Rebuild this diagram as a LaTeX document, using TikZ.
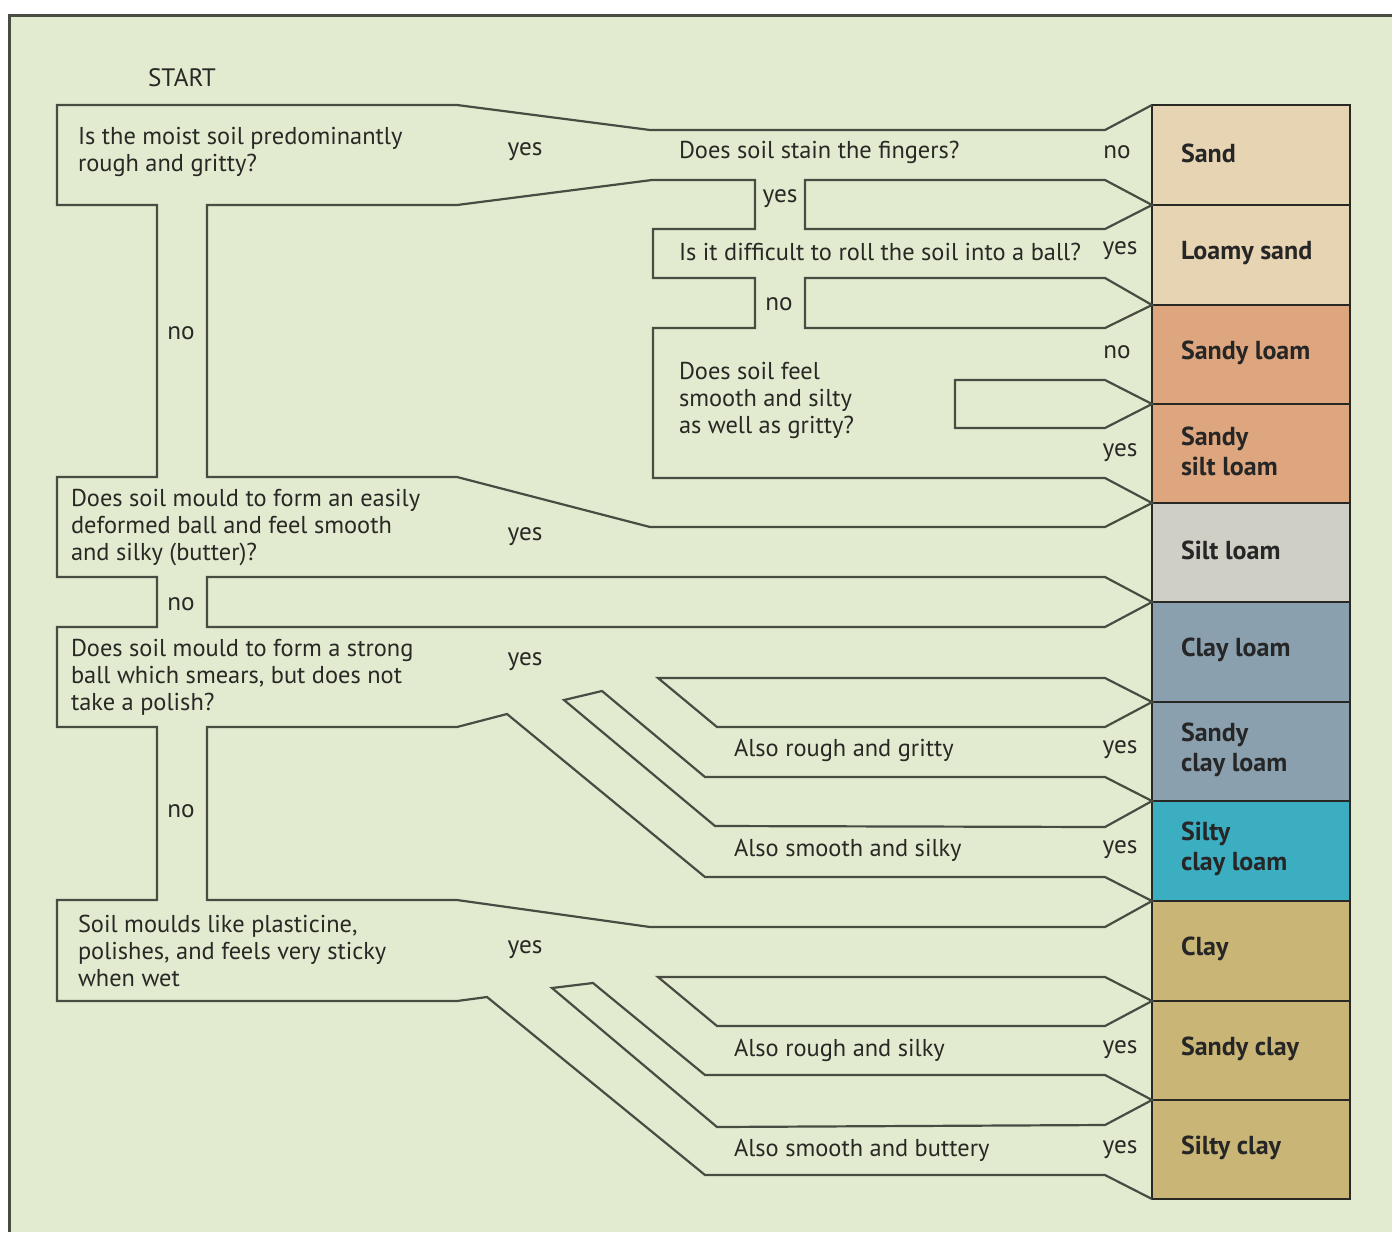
\documentclass[tikz,border=0pt]{standalone}
\usepackage{fontspec}
\setmainfont{PT Sans}

\definecolor{bgGreen}{RGB}{226,235,208}
\definecolor{wallGrey}{RGB}{72,76,66}
\definecolor{inkGrey}{RGB}{40,40,36}
\definecolor{sandTan}{RGB}{231,212,178}
\definecolor{loamSalmon}{RGB}{221,166,126}
\definecolor{siltGrey}{RGB}{208,207,198}
\definecolor{clayBlue}{RGB}{139,160,175}
\definecolor{siltyTeal}{RGB}{60,174,193}
\definecolor{clayKhaki}{RGB}{201,181,118}

\tikzset{every picture/.style={line width=1pt}}
\tikzset{
  wall/.style={draw=wallGrey, line width=1.1pt, line join=miter},
  qtext/.style={anchor=west, inner sep=0pt, align=left, text=inkGrey,
    font=\fontsize{12.2}{13.5}\selectfont},
  answer/.style={inner sep=0pt, text=inkGrey, font=\fontsize{12.6}{14}\selectfont},
  soilcell/.style={draw=inkGrey, line width=1.2pt},
  soilname/.style={anchor=west, inner sep=0pt, align=left, text=black!85,
    font=\bfseries\fontsize{13}{15}\selectfont},
}

\begin{document}
\begin{tikzpicture}[x=0.5pt,y=0.5pt,yscale=-1,xscale=1]
        \useasboundingbox (0,0) rectangle (1392,1232);
        \fill[white] (0,0) rectangle (1392,1232);
        \fill[bgGreen] (9,15) rectangle (1392,1232);
        \draw[wallGrey, line width=1.5pt] (1392,15) -- (9,15) -- (9,1232);

        % soil texture column
        \foreach \n/\ytop/\ybot/\col/\txt in {
            1/105/205/sandTan/{Sand},
            2/205/305/sandTan/{Loamy sand},
            3/305/404/loamSalmon/{Sandy loam},
            4/404/503/loamSalmon/{Sandy\\silt loam},
            5/503/602/siltGrey/{Silt loam},
            6/602/702/clayBlue/{Clay loam},
            7/702/801/clayBlue/{Sandy\\clay loam},
            8/801/901/siltyTeal/{Silty\\clay loam},
            9/901/1001/clayKhaki/{Clay},
            10/1001/1100/clayKhaki/{Sandy clay},
            11/1100/1199/clayKhaki/{Silty clay}}{
          \filldraw[soilcell, fill=\col] (1152,\ytop) rectangle (1350,\ybot);
          \node (soil\n) [soilname] at (1180,{(\ytop+\ybot)/2-2}) {\txt};
        }

        % outer wall, left side and bottom
        \draw[wall] (1152,105) -- (1105,130) -- (650,130) -- (457,105) -- (57,105) -- (57,205) -- (157,205)
            -- (157,477) -- (57,477) -- (57,577) -- (157,577) -- (157,627) -- (57,627) -- (57,727) -- (157,727)
            -- (157,900) -- (57,900) -- (57,1001) -- (457,1001) -- (487,997) -- (705,1175) -- (1105,1175) -- (1152,1199);

        % block holding the sandy questions
        \draw[wall] (207,477) -- (207,205) -- (457,205) -- (652,180) -- (755,180) -- (755,229) -- (653,229)
            -- (653,278) -- (755,278) -- (755,328) -- (653,328) -- (653,478) -- (1105,478) -- (1152,503)
            -- (1105,527) -- (650,527) -- (457,477) -- cycle;
        \draw[wall] (805,180) -- (1105,180) -- (1152,205) -- (1105,229) -- (805,229) -- cycle;
        \draw[wall] (805,278) -- (1105,278) -- (1152,305) -- (1105,328) -- (805,328) -- cycle;
        \draw[wall] (955,380) -- (1105,380) -- (1152,404) -- (1105,428) -- (955,428) -- cycle;

        % silt loam / clay loam
        \draw[wall] (207,577) -- (1105,577) -- (1152,602) -- (1105,627) -- (207,627) -- cycle;
        \draw[wall] (658,678) -- (1105,678) -- (1152,702) -- (1105,727) -- (717,727) -- cycle;
        \draw[wall] (564,700) -- (602,691) -- (705,777) -- (1105,777) -- (1152,801) -- (1105,827) -- (715,826) -- cycle;
        \draw[wall] (207,727) -- (457,727) -- (507,714) -- (705,877) -- (1105,877) -- (1152,901) -- (1105,927)
            -- (650,927) -- (457,900) -- (207,900) -- cycle;

        % clays
        \draw[wall] (658,977) -- (1105,977) -- (1152,1001) -- (1105,1026) -- (717,1026) -- cycle;
        \draw[wall] (552,988) -- (593,983) -- (705,1075) -- (1105,1075) -- (1152,1100) -- (1105,1125) -- (717,1127) -- cycle;

        % questions
        \node (start) [answer] at (182,78) {START};
        \node (qrough) [qtext] at (77,152) {Is the moist soil predominantly\\rough and gritty?};
        \node (qstain) [qtext] at (678,152) {Does soil stain the fingers?};
        \node (qball) [qtext] at (678,252) {Is it difficult to roll the soil into a ball?};
        \node (qsilty) [qtext] at (678,400) {Does soil feel\\smooth and silty\\as well as gritty?};
        \node (qbutter) [qtext] at (70,528) {Does soil mould to form an easily\\deformed ball and feel smooth\\and silky (butter)?};
        \node (qsmear) [qtext] at (70,677) {Does soil mould to form a strong\\ball which smears, but does not\\take a polish?};
        \node (qroughgr) [qtext] at (733,750) {Also rough and gritty};
        \node (qsmoothsi) [qtext] at (733,850) {Also smooth and silky};
        \node (qplast) [qtext] at (77,951) {Soil moulds like plasticine,\\polishes, and feels very sticky\\when wet};
        \node (qroughsi) [qtext] at (733,1050) {Also rough and silky};
        \node (qbuttery) [qtext] at (733,1150) {Also smooth and buttery};

        % answers
        \node (a1) [answer] at (525,152) {yes};
        \node (a2) [answer] at (181,333) {no};
        \node (a3) [answer] at (1117,152) {no};
        \node (a4) [answer] at (780,199) {yes};
        \node (a5) [answer] at (1120,251) {yes};
        \node (a6) [answer] at (779,304) {no};
        \node (a7) [answer] at (1117,352) {no};
        \node (a8) [answer] at (1120,453) {yes};
        \node (a9) [answer] at (525,537) {yes};
        \node (a10) [answer] at (181,604) {no};
        \node (a11) [answer] at (525,662) {yes};
        \node (a12) [answer] at (181,811) {no};
        \node (a13) [answer] at (1120,750) {yes};
        \node (a14) [answer] at (1120,850) {yes};
        \node (a15) [answer] at (525,950) {yes};
        \node (a16) [answer] at (1120,1050) {yes};
        \node (a17) [answer] at (1120,1150) {yes};
    \end{tikzpicture}
\end{document}
